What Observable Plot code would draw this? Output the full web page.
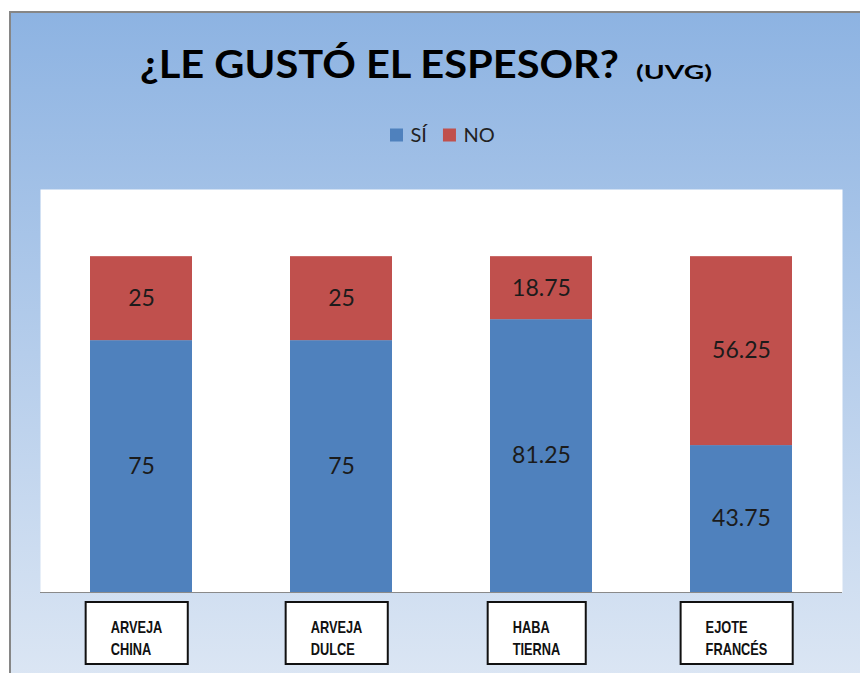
<!DOCTYPE html>
<html>
<head>
<meta charset="utf-8">
<script src="https://cdn.jsdelivr.net/npm/d3@7"></script>
<script src="https://cdn.jsdelivr.net/npm/@observablehq/plot@0.6"></script>
<style>
  body { margin: 0; background: #fff; }
  #wrap { position: relative; width: 860px; height: 673px; overflow: hidden; background: #fff; }
  #bg { position: absolute; left: 9px; top: 11px; width: 880px; height: 680px;
        border-left: 2.5px solid #868686; border-top: 2.5px solid #868686;
        background: linear-gradient(180deg, #8db3e2 0%, #dde7f4 100%); }
  #head { position: absolute; left: 0; top: 0; }
  #chart { position: absolute; left: 0; top: 189px; }
</style>
</head>
<body>
<div id="wrap">
  <div id="bg"></div>
  <svg id="head" width="860" height="189"></svg>
  <div id="chart"></div>
</div>
<script>
// ---- data ----
const title = "¿LE GUSTÓ EL ESPESOR?";
const subtitle = "(UVG)";
const categories = ["ARVEJA\nCHINA", "ARVEJA\nDULCE", "HABA\nTIERNA", "EJOTE\nFRANCÉS"];
const series = ["SÍ", "NO"];
const siValues = [75, 75, 81.25, 43.75];
const noValues = [25, 25, 18.75, 56.25];
const colors = ["#4f81bd", "#c0504d"];

const seriesValues = [siValues, noValues];
const rows = categories.flatMap((c, i) =>
  series.map((s, j) => ({cat: c, serie: s, value: seriesValues[j][i]})));

// ---- header (title + legend) ----
const head = d3.select("#head");
head.append("text")
  .attr("x", 140).attr("y", 78.3)
  .attr("font-family", "Lato").attr("font-weight", 700).attr("font-size", 38)
  .attr("fill", "#000")
  .attr("textLength", 479).attr("lengthAdjust", "spacingAndGlyphs")
  .text(title);
head.append("text")
  .attr("x", 636).attr("y", 79)
  .attr("font-family", "Lato").attr("font-weight", 700).attr("font-size", 19)
  .attr("fill", "#000")
  .attr("textLength", 76).attr("lengthAdjust", "spacingAndGlyphs")
  .text(subtitle);

let lx = 390;
series.forEach((s, i) => {
  head.append("rect").attr("x", lx).attr("y", 128.5).attr("width", 13).attr("height", 13)
    .attr("fill", colors[i]);
  const t = head.append("text").attr("x", lx + 20.5).attr("y", 142.3)
    .attr("font-family", "Lato").attr("font-size", 20).attr("fill", "#222").text(s);
  lx += 20.5 + t.node().getComputedTextLength() + 16;
});

// ---- chart ----
const H = 484, MB = 81;
const chart = Plot.plot({
  width: 860, height: H,
  marginLeft: 40, marginRight: 18, marginTop: 0, marginBottom: MB,
  style: {background: "transparent", overflow: "visible"},
  x: {domain: categories, paddingInner: 0.49, paddingOuter: 0.245, axis: null},
  y: {domain: [0, 120], axis: null},
  color: {domain: series, range: colors},
  marks: [
    Plot.frame({fill: "white", stroke: "none"}),
    Plot.barY(rows, {x: "cat", y: "value", fill: "serie"}),
    Plot.ruleY([0], {stroke: "#8a8a8a", strokeWidth: 1.2}),
    Plot.text(rows, Plot.stackY({
      x: "cat", y: "value", text: d => String(d.value),
      fontSize: 23, fontFamily: "Lato", fill: "#1b1b1b"
    })),
    Plot.text(categories, {
      x: d => d, text: d => d, frameAnchor: "bottom", lineAnchor: "top",
      dy: 24.5, lineHeight: 1.375, fontSize: 16, fontWeight: "bold",
      fontFamily: "Liberation Sans, Arial, sans-serif", fill: "#111"
    })
  ]
});
document.getElementById("chart").append(chart);

// ---- label boxes around the category texts ----
(function () {
  const svgEl = chart.tagName.toLowerCase() === "svg" ? chart : chart.querySelector("svg");
  const ns = "http://www.w3.org/2000/svg";
  const sr = svgEl.getBoundingClientRect();
  const groups = svgEl.querySelectorAll('g[aria-label="text"]');
  const catG = groups[groups.length - 1];
  if (!catG) return;
  const boxG = document.createElementNS(ns, "g");
  catG.parentNode.insertBefore(boxG, catG);
  const narrow = 0.8, off = 5, boxTop = H - MB + 10, boxH = 62;
  catG.querySelectorAll("text").forEach(t => {
    const r0 = t.getBoundingClientRect();
    const cx = (r0.left + r0.right) / 2 - sr.left;
    const orig = t.getAttribute("transform") || "";
    t.setAttribute("text-anchor", "start");
    t.setAttribute("transform", orig + ` scale(${narrow},1)`);
    const r1 = t.getBoundingClientRect();
    const w = r1.width;
    const desiredLeft = cx - off - w / 2;
    const delta = desiredLeft - (r1.left - sr.left);
    t.setAttribute("transform", `translate(${delta},0) ` + orig + ` scale(${narrow},1)`);
    const bw = Math.max(98, w + 50);
    const rect = document.createElementNS(ns, "rect");
    rect.setAttribute("x", cx - off - bw / 2);
    rect.setAttribute("y", boxTop);
    rect.setAttribute("width", bw);
    rect.setAttribute("height", boxH);
    rect.setAttribute("fill", "#fff");
    rect.setAttribute("stroke", "#111");
    rect.setAttribute("stroke-width", 2);
    boxG.appendChild(rect);
  });
})();
</script>
</body>
</html>
